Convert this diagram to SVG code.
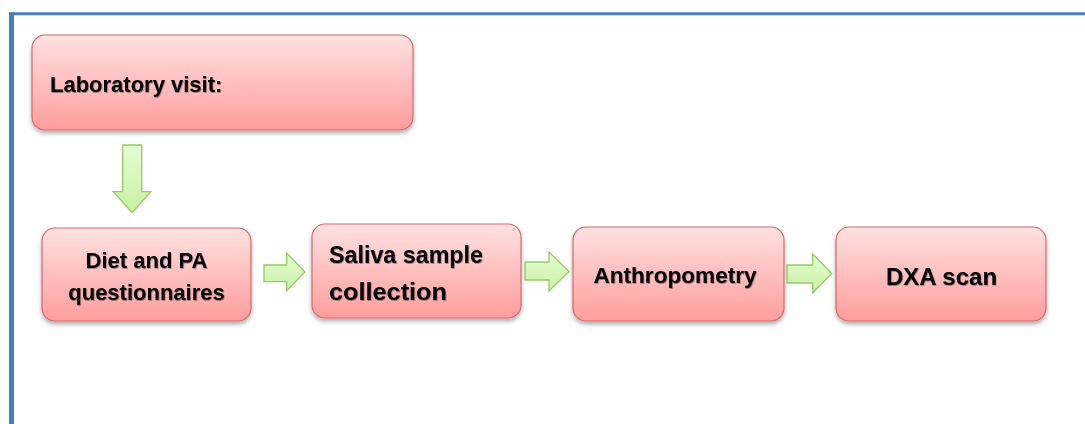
<svg xmlns="http://www.w3.org/2000/svg" width="1085" height="424" viewBox="0 0 1085 424">
  <defs>
    <linearGradient id="boxGrad" x1="0" y1="0" x2="0" y2="1">
      <stop offset="0" stop-color="#ffe1e1"/>
      <stop offset="1" stop-color="#ff9d9d"/>
    </linearGradient>
    <linearGradient id="arrowGrad" x1="0" y1="0" x2="0" y2="1">
      <stop offset="0" stop-color="#e6fcd4"/>
      <stop offset="1" stop-color="#c8f1a4"/>
    </linearGradient>
    <filter id="shadow" x="-10%" y="-10%" width="120%" height="130%">
      <feDropShadow dx="0" dy="3" stdDeviation="2" flood-color="#000" flood-opacity="0.3"/>
    </filter>
    <filter id="tshadow" x="-5%" y="-20%" width="110%" height="140%">
      <feDropShadow dx="0.6" dy="0.8" stdDeviation="0.6" flood-color="#000" flood-opacity="0.45"/>
    </filter>
  </defs>
  <style>
    .box { fill: url(#boxGrad); stroke: #d66a6a; stroke-width: 1.2; filter: url(#shadow); }
    .arrow { fill: url(#arrowGrad); stroke: #94cc62; stroke-width: 1.3; }
    .t { font-family: "Liberation Sans", Arial, sans-serif; font-weight: bold; fill: #000; filter: url(#tshadow); }
    .frame { stroke: #4a7dbd; fill: none; }
  </style>
  <rect width="1085" height="424" fill="#ffffff"/>
  <g id="frame">
    <line class="frame" x1="9" y1="13.8" x2="1085" y2="13.8" stroke-width="3"/>
    <line class="frame" x1="11.5" y1="12.3" x2="11.5" y2="424" stroke-width="5"/>
  </g>
  <g id="connectors">
    <polygon class="arrow" points="122.7,145 141.7,145 141.7,191.7 150.7,191.7 132.2,212.7 113.3,191.7 122.7,191.7"/>
    <polygon class="arrow" points="264,265 286.7,265 286.7,253 305,272 286.7,290.7 286.7,281.7 264,281.7"/>
    <polygon class="arrow" points="525,262 549,262 549,252 569,271.5 549,291 549,280 525,280"/>
    <polygon class="arrow" points="787,265 812.7,265 812.7,254 831.7,273.5 812.7,293 812.7,283 787,283"/>
  </g>
  <g id="node-lab">
    <rect class="box" x="32" y="35" width="381" height="95" rx="13"/>
    <text class="t" x="50" y="92" font-size="22">Laboratory visit:</text>
  </g>
  <g id="node-diet">
    <rect class="box" x="42" y="228" width="209" height="93" rx="13"/>
    <text class="t" x="146.5" y="268" font-size="22" text-anchor="middle">Diet and PA</text>
    <text class="t" x="146.5" y="300" font-size="22" text-anchor="middle">questionnaires</text>
  </g>
  <g id="node-saliva">
    <rect class="box" x="312" y="224" width="209" height="94" rx="13"/>
    <text class="t" x="329" y="263" font-size="24" textLength="154" lengthAdjust="spacingAndGlyphs">Saliva sample</text>
    <text class="t" x="329" y="300" font-size="24" textLength="118" lengthAdjust="spacingAndGlyphs">collection</text>
  </g>
  <g id="node-anthro">
    <rect class="box" x="573" y="227" width="211" height="94" rx="13"/>
    <text class="t" x="675" y="283" font-size="22.6" text-anchor="middle">Anthropometry</text>
  </g>
  <g id="node-dxa">
    <rect class="box" x="836" y="227" width="210" height="94" rx="13"/>
    <text class="t" x="941.5" y="285" font-size="24" text-anchor="middle">DXA scan</text>
  </g>
</svg>
